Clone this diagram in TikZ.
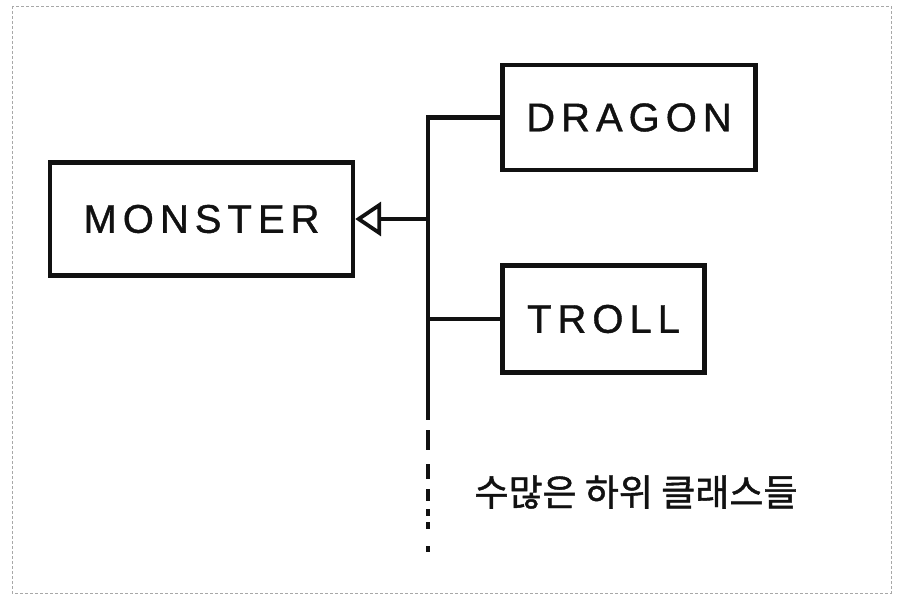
\documentclass[tikz,border=0pt]{standalone}
\usepackage{fontspec}
\setmainfont{Liberation Sans}
\newfontfamily\korfont[FakeBold=1.2]{Noto Sans CJK KR}
\usetikzlibrary{arrows.meta,positioning}
\definecolor{ink}{HTML}{111111}
\definecolor{framegray}{HTML}{A8A8A8}
\tikzset{
  classbox/.style={draw=ink,line width=4.4pt,inner sep=0pt,align=center,text=ink,
                   font=\fontsize{40}{44}\selectfont\addfontfeature{LetterSpace=15,FakeBold=1}},
  link/.style={draw=ink,line width=4.4pt},
  inherit/.style={-{Triangle[open,length=26pt,width=34pt,line width=3.8pt]}},
  note/.style={text=ink,font=\korfont\fontsize{37}{40}\selectfont}
}

\begin{document}
\begin{tikzpicture}[x=1pt,y=-1pt]
  \useasboundingbox (0,0) rectangle (899,607);
  % page frame
  \draw[framegray,line width=0.8pt,dash pattern=on 3pt off 2pt] (12,6) rectangle (891,593);

  % classes
  \node[classbox,minimum width=303pt,minimum height=113pt] (monster) at (201.5,219) {MONSTER};
  \node[classbox,minimum width=253pt,minimum height=105pt] (dragon) at (629,117.5) {DRAGON};
  \node[classbox,minimum width=202pt,minimum height=107pt] (troll) at (603.5,319) {TROLL};

  % trunk of the hierarchy
  \coordinate (trunkend) at (428,420);
  \coordinate (dotsstart) at (428,430);
  \coordinate (dotsend) at (428,553);
  \draw[link] (dragon.west) -| (trunkend);
  \draw[link] (troll.west) -- (troll.west -| trunkend);
  \draw[link,inherit] (monster.east -| trunkend) -- (monster.east);
  \draw[link,dash pattern=on 20pt off 14pt on 15pt off 10pt on 12pt off 8pt on 7pt off 6pt on 7pt off 17pt on 6pt off 40pt]
    (dotsstart) -- (dotsend);

  \node[note] (manysub) at (636,492) {수많은 하위 클래스들};
\end{tikzpicture}
\end{document}
